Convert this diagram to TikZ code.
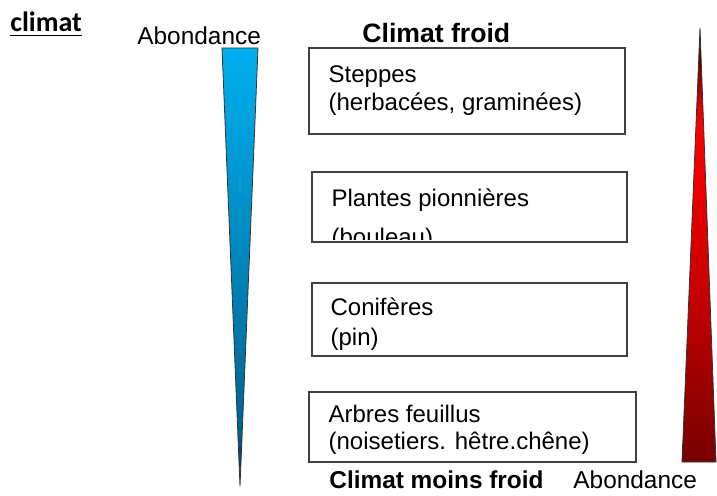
\documentclass[tikz,border=0pt]{standalone}
\usepackage{fontspec}
\setmainfont{Liberation Sans}
\newfontfamily\calibri{Carlito}
\usetikzlibrary{positioning}

\definecolor{skyblue}{RGB}{0,176,240}
\definecolor{deepblue}{RGB}{0,100,145}
\definecolor{darkred}{RGB}{120,0,0}
\pgfdeclareverticalshading{bluewedge}{100bp}{color(0bp)=(black!85!deepblue); color(25bp)=(black!70!deepblue); color(31bp)=(deepblue); color(75bp)=(skyblue); color(100bp)=(skyblue)}
\pgfdeclareverticalshading{redwedge}{100bp}{color(0bp)=(darkred); color(25bp)=(darkred); color(46bp)=(red!80!black); color(64bp)=(red); color(71bp)=(red!45!black); color(75bp)=(black); color(100bp)=(black)}

\begin{document}
\begin{tikzpicture}[x=0.5pt, y=-0.5pt,
  box/.style={rectangle, draw=black!75, line width=0.75pt},
  lbl/.style={inner sep=0pt, align=left, font=\fontsize{12}{13}\selectfont},
  word/.style={inner sep=0pt, anchor=base west, font=\fontsize{12.2}{14}\selectfont},
  head/.style={inner sep=0pt, anchor=base west, font=\bfseries\fontsize{#1}{15}\selectfont},
  wedge/.style={draw=black!80, line width=0.4pt}]
\useasboundingbox (0,0) rectangle (717,496);

% titles
\node[inner sep=0pt, anchor=base west, font=\calibri\bfseries\fontsize{14}{16}\selectfont] (climat) at (10,32) {\underline{climat}};
\node[word] (abondhaut) at (137,45) {Abondance};
\node[head=13.3] (froid) at (362,43) {Climat froid};
\node[head=12.2] (moinsfroid) at (329,488) {Climat moins froid};
\node[word] (abondbas) at (573,488) {Abondance};

% wedges
\shade[wedge, shading=bluewedge] (222,48) -- (258,48) -- (240,486) -- cycle;
\shade[wedge, shading=redwedge] (700,28) -- (716,462) -- (682,462) -- cycle;

% boxes
\node[box, minimum width=158pt, minimum height=43pt] (steppes) at (467,91) {};
\node[lbl, below right=8.5pt and 10pt of steppes.north west] (steppestxt) {\strut Steppes\\[1pt](herbacées, graminées)};

\node[box, minimum width=157.5pt, minimum height=35pt] (pionnieres) at (469.5,207) {};
\begin{scope}
  \clip (pionnieres.north west) rectangle ([yshift=1.5pt]pionnieres.south east);
  \node[lbl, below right=8.5pt and 10pt of pionnieres.north west] (pionnierestxt) {\strut Plantes pionnières\\[6.5pt](bouleau)};
\end{scope}

\node[box, minimum width=157.5pt, minimum height=36.5pt] (coniferes) at (469.5,319.5) {};
\node[lbl, below right=7.5pt and 9.5pt of coniferes.north west] (coniferestxt) {\strut Conifères\\[2pt](pin)};

\node[box, minimum width=163.5pt, minimum height=35pt] (feuillus) at (472.5,427) {};
\node[lbl, below right=6.5pt and 10pt of feuillus.north west] (feuillustxt) {\strut Arbres feuillus\\[0.5pt](noisetiers. hêtre.chêne)};
\end{tikzpicture}
\end{document}
